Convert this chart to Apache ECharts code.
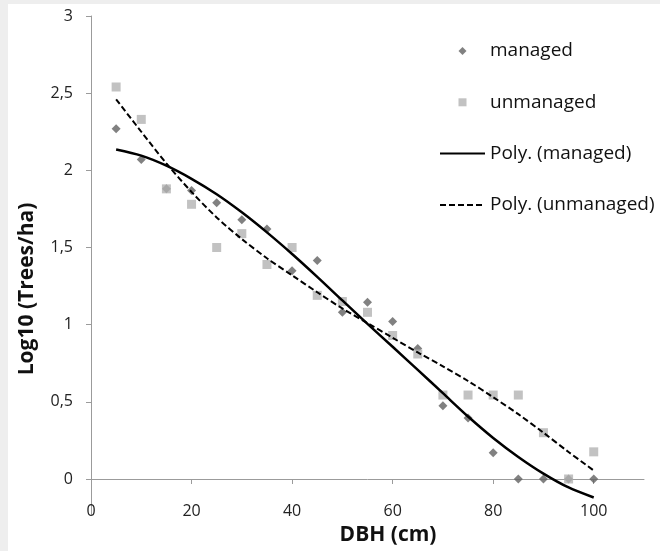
<!DOCTYPE html>
<html>
<head>
<meta charset="utf-8">
<script src="https://cdn.jsdelivr.net/npm/echarts@6/dist/echarts.min.js"></script>
<style>
  html, body { margin: 0; padding: 0; background: #eeeeee; width: 660px; height: 551px; overflow: hidden; }
  #chart { position: absolute; left: 8px; top: 4px; width: 652px; height: 547px; background: #ffffff; }
</style>
</head>
<body>
<div id="chart"></div>
<script>
// ---- data ----
const dbh = [5, 10, 15, 20, 25, 30, 35, 40, 45, 50, 55, 60, 65, 70, 75, 80, 85, 90, 95, 100];
const managed = [2.27, 2.07, 1.88, 1.87, 1.79, 1.68, 1.62, 1.35, 1.415, 1.08, 1.145, 1.02, 0.845, 0.475, 0.395, 0.17, 0, 0, 0, 0];
const unmanaged = [2.54, 2.33, 1.88, 1.78, 1.50, 1.59, 1.39, 1.50, 1.19, 1.15, 1.08, 0.93, 0.81, 0.544, 0.544, 0.544, 0.544, 0.30, 0, 0.176];
const polyManaged = [2.135, 2.095, 2.03, 1.945, 1.845, 1.728, 1.598, 1.458, 1.31, 1.157, 1.005, 0.857, 0.707, 0.556, 0.405, 0.266, 0.143, 0.035, -0.055, -0.12];
const polyUnmanaged = [2.46, 2.25, 2.045, 1.86, 1.695, 1.555, 1.43, 1.32, 1.21, 1.105, 1.01, 0.915, 0.82, 0.73, 0.635, 0.53, 0.42, 0.30, 0.175, 0.055];
const xTicks = [0, 20, 40, 60, 80, 100];
const yTicks = [0, 0.5, 1, 1.5, 2, 2.5, 3];
const seriesNames = ['managed', 'unmanaged', 'Poly. (managed)', 'Poly. (unmanaged)'];
const xTitle = 'DBH (cm)';
const yTitle = 'Log10 (Trees/ha)';

const pairs = (xs, ys) => xs.map((x, i) => [x, ys[i]]);
const FONT = '"Open Sans", "Liberation Sans", sans-serif';
const axisGray = '#9b9b9b';
const hidden = { color: 'rgba(0,0,0,0)', borderColor: 'rgba(0,0,0,0)', borderWidth: 0 };

const chart = echarts.init(document.getElementById('chart'), null, { renderer: 'canvas' });
chart.setOption({
  animation: false,
  textStyle: { fontFamily: FONT },
  grid: { left: 83, top: 12, width: 553, height: 498.5 },
  xAxis: [
    {
      type: 'value', min: 0, max: 110,
      axisLine: { show: true, onZero: true, lineStyle: { color: axisGray, width: 1 } },
      axisTick: { show: true, length: 5, customValues: xTicks, lineStyle: { color: axisGray } },
      axisLabel: { show: false },
      splitLine: { show: false }
    },
    {
      type: 'value', min: 0, max: 110, position: 'bottom', offset: -11,
      axisLine: { show: false, onZero: false },
      axisTick: { show: false },
      axisLabel: { show: true, customValues: xTicks, margin: 0, color: '#222', fontSize: 16, fontFamily: FONT },
      splitLine: { show: false }
    }
  ],
  yAxis: {
    type: 'value', min: -0.23, max: 3,
    axisLine: { show: true, onZero: false, lineStyle: { color: axisGray, width: 1 } },
    axisTick: { show: true, length: 5, customValues: yTicks, lineStyle: { color: axisGray } },
    axisLabel: {
      show: true, customValues: yTicks, margin: 18, color: '#222', fontSize: 16, fontFamily: FONT,
      formatter: v => String(v).replace('.', ',')
    },
    splitLine: { show: false }
  },
  legend: {
    orient: 'vertical', left: 431, top: 37, padding: 0,
    itemWidth: 45, itemHeight: 8, itemGap: 31.3, symbolKeepAspect: true,
    textStyle: { fontSize: 19, lineHeight: 20, color: '#111', fontFamily: FONT },
    data: [
      { name: seriesNames[0], icon: 'path://M5,0L10,5L5,10L0,5Z' },
      { name: seriesNames[1], icon: 'path://M0,0L10,0L10,10L0,10Z' },
      { name: seriesNames[2], itemStyle: hidden },
      { name: seriesNames[3], itemStyle: hidden }
    ]
  },
  graphic: [
    { type: 'text', x: 380, y: 531, style: { text: xTitle, fontSize: 21, fontWeight: 'bold', fontFamily: FONT, fill: '#111', align: 'center', verticalAlign: 'middle' } },
    { type: 'text', x: 19, y: 285, rotation: Math.PI / 2, style: { text: yTitle, fontSize: 21, fontWeight: 'bold', fontFamily: FONT, fill: '#111', align: 'center', verticalAlign: 'middle' } }
  ],
  series: [
    {
      name: seriesNames[0], type: 'scatter', symbol: 'diamond', symbolSize: 9,
      itemStyle: { color: '#626262' }, data: pairs(dbh, managed)
    },
    {
      name: seriesNames[1], type: 'scatter', symbol: 'rect', symbolSize: 9,
      itemStyle: { color: '#b3b3b3' }, data: pairs(dbh, unmanaged)
    },
    {
      name: seriesNames[2], type: 'line', smooth: 0.3, symbol: 'none', showSymbol: false,
      itemStyle: { color: '#000' },
      lineStyle: { color: '#000', width: 2.5, type: 'solid' }, data: pairs(dbh, polyManaged)
    },
    {
      name: seriesNames[3], type: 'line', smooth: 0.3, symbol: 'none', showSymbol: false,
      itemStyle: { color: '#000' },
      lineStyle: { color: '#000', width: 2, type: [6, 3] }, data: pairs(dbh, polyUnmanaged)
    }
  ]
});
</script>
</body>
</html>
